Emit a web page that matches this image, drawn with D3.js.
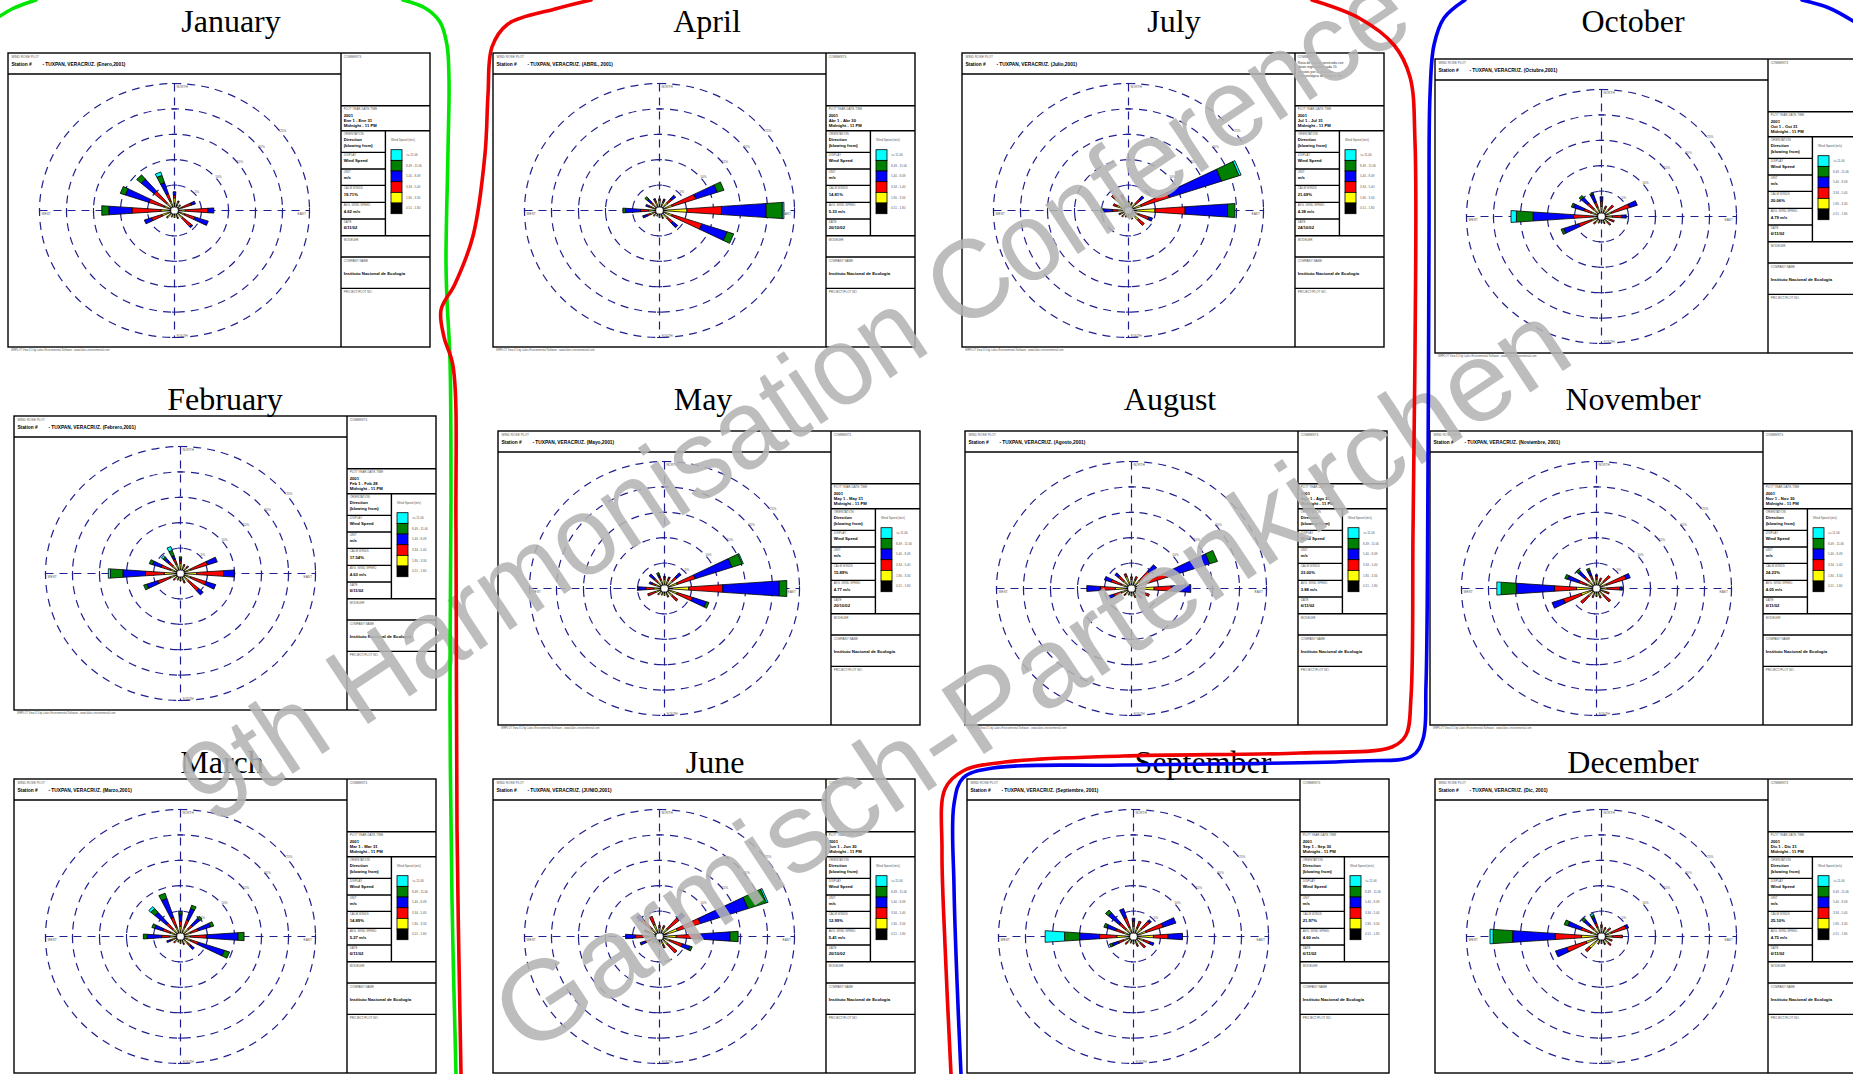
<!DOCTYPE html>
<html>
<head>
<meta charset="utf-8">
<script src="https://cdn.jsdelivr.net/npm/d3@7"></script>
<style>
  body { margin: 0; background: #fff; }
  svg { display: block; }
</style>
</head>
<body>
<svg id="chart" width="1853" height="1074"></svg>
<script>
// ---- data ----
const months = ["January","February","March","April","May","June","July","August","September","October","November","December"]
const stationLabels = ["(Enero,2001)","(Febrero,2001)","(Marzo,2001)","(ABRIL, 2001)","(Mayo,2001)","(JUNIO,2001)","(Julio,2001)","(Agosto,2001)","(Septiembre, 2001)","(Octubre,2001)","(Noviembre, 2001)","(Dic, 2001)"]
const dateRanges = ["Ene 1 - Ene 31","Feb 1 - Feb 28","Mar 1 - Mar 31","Abr 1 - Abr 30","May 1 - May 31","Jun 1 - Jun 30","Jul 1 - Jul 31","Ago 1 - Ago 31","Sep 1 - Sep 30","Oct 1 - Oct 31","Nov 1 - Nov 30","Dic 1 - Dic 31"]
const calmWinds = ["19.71%","17.54%","14.89%","14.81%","15.89%","12.99%","21.69%","23.00%","21.97%","20.06%","24.23%","25.10%"]
const avgSpeeds = ["4.62 m/s","4.63 m/s","5.27 m/s","5.33 m/s","4.77 m/s","5.41 m/s","4.38 m/s","3.88 m/s","4.60 m/s","4.79 m/s","4.05 m/s","4.75 m/s"]
const plotDates = ["6/11/02","6/11/02","6/11/02","20/10/02","20/10/02","20/10/02","24/10/02","6/11/02","6/11/02","6/11/02","6/11/02","6/11/02"]

const directions = ["N","NNE","NE","ENE","E","ESE","SE","SSE","S","SSW","SW","WSW","W","WNW","NW","NNW"]
const speedClasses = ["0.51 - 1.80","1.80 - 3.34","3.34 - 5.40","5.40 - 8.49","8.49 - 11.06",">= 11.06"]
const classColors = ["#000000","#ffff00","#ff0000","#0000ff","#008000","#00ffff"]
const ringValues = [5, 10, 15, 20, 25]

// frequency (%) per direction, per speed class (black, yellow, red, blue, green, cyan)
const janFreq = [[1.5,1.0,0.5,0.7,0,0],[1.2,0.6,0.2,0,0,0],[1.0,0.4,0.1,0,0,0],[1.0,0.5,1.8,0.8,0,0],
  [1.0,1.0,4.2,1.1,0,0],[1.0,1.0,2.0,2.6,0,0],[1.0,1.0,2.2,0.3,0,0],[1.0,0.5,0.2,0,0,0],
  [1.0,0.4,0,0,0,0],[1.0,0.4,0,0,0,0],[1.0,0.8,0.2,0,0,0],[1.0,1.5,2.0,1.4,0,0],
  [1.0,1.5,5.4,4.3,1.3,0],[1.0,1.0,3.0,4.6,1.0,0],[1.0,1.0,3.0,3.2,1.1,0],[1.0,1.0,1.5,2.3,1.5,0.7]]
const febFreq = [[1.0,1.0,0.5,0.4,0.4,0],[1.0,0.6,0.3,0,0,0],[1.0,0.6,0.4,0,0,0],[1.0,1.0,3.3,1.9,0,0],
  [1.0,2.0,5.0,2.0,0,0],[1.0,1.0,3.0,1.9,0,0],[1.0,1.0,2.5,1.1,0,0],[1.0,0.6,0.4,0,0,0],
  [1.0,0.4,0.1,0,0,0],[1.0,0.4,0,0,0,0],[1.0,0.5,0.3,0,0,0],[1.0,1.0,2.5,2.1,0.6,0],
  [1.0,2.0,3.5,4.2,2.3,0.4],[1.0,1.0,1.8,1.7,0.6,0],[1.0,1.0,1.0,1.0,0.3,0.4],[1.0,1.0,1.0,0.7,1.1,0.8]]
const marFreq = [[1.0,1.0,1.0,1.4,0.5,0],[1.0,1.0,1.5,2.3,0.7,0],[1.0,1.0,1.0,1.8,0.5,0],[1.0,1.0,1.5,2.4,0.6,0],
  [1.0,0.8,3.0,5.9,1.1,0],[1.0,1.0,1.5,5.1,1.0,0],[1.0,0.8,0.8,0.8,0,0],[1.0,0.5,0.2,0,0,0],
  [1.0,0.4,0,0,0,0],[0.9,0.3,0,0,0,0],[1.0,0.5,0.2,0,0,0],[1.0,0.7,0.4,0.6,0,0],
  [1.0,1.0,1.5,2.7,0.7,0],[1.0,1.0,1.5,1.5,0.6,0],[1.0,1.0,1.5,2.8,1.0,0.5],[1.0,1.0,2.0,3.9,1.1,0]]
const aprFreq = [[1.2,0.8,0.3,0,0,0],[1.0,0.7,0.4,0.3,0,0],[1.0,1.0,1.0,1.0,0,0],[1.0,1.5,4.6,4.2,1.3,0],
  [1.3,3.8,6.4,8.3,3.0,0.3],[1.0,1.5,5.8,4.9,1.3,0],[1.0,1.0,1.3,1.2,0,0],[1.0,0.5,0.2,0,0,0],
  [1.0,0.4,0,0,0,0],[0.9,0.3,0,0,0,0],[1.0,0.4,0.1,0,0,0],[1.0,0.8,0.7,0.8,0,0],
  [1.0,1.0,1.5,2.8,0.5,0],[1.0,0.6,0.5,0.6,0,0],[1.0,0.7,0.5,0.8,0.6,0],[1.0,0.8,0.5,0.2,0,0]]
const mayFreq = [[1.0,0.8,0.4,0.2,0,0],[1.0,0.7,0.5,0.2,0,0],[1.0,1.0,1.0,1.1,0,0],[1.0,1.5,3.5,7.2,2.0,0.2],
  [1.5,3.0,6.3,10.5,1.4,0],[1.0,1.5,3.0,2.7,0.5,0],[1.0,1.0,1.3,0,0,0],[1.0,0.6,0.2,0,0,0],
  [1.0,0.4,0,0,0,0],[1.0,0.4,0,0,0,0],[1.0,0.5,0.2,0,0,0],[1.0,0.8,1.5,0,0,0],
  [1.0,1.0,1.5,1.4,0,0],[1.0,0.8,0.7,0.5,0,0],[1.0,0.8,0.8,1.2,0,0],[1.0,0.8,0.6,0.4,0.5,0]]
const junFreq = [[1.0,0.8,0.4,0,0,0],[1.0,0.8,0.5,0,0,0],[1.0,1.0,2.8,1.4,0,0],[1.5,2.0,4.5,9.3,3.6,0.3],
  [1.3,1.8,4.3,5.7,1.5,0],[1.0,1.0,2.5,1.5,0.4,0],[1.0,1.0,2.3,0,0,0],[1.0,0.8,0.6,0,0,0],
  [1.0,0.5,0.1,0,0,0],[1.0,0.4,0,0,0,0],[1.0,0.5,0.2,0,0,0],[1.0,0.8,1.0,1.0,0,0],
  [1.0,1.0,2.5,1.8,0,0],[1.0,1.0,1.0,0,0,0],[1.0,1.0,2.5,1.2,0,0],[1.0,1.5,1.7,0,0,0]]
const julFreq = [[1.2,0.5,0.1,0,0,0],[1.0,0.5,0.2,0,0,0],[1.0,0.8,1.2,0.8,0,0],[1.2,1.3,5.5,10.2,3.4,0.4],
  [1.5,3.4,5.6,7.9,1.35,0],[1.0,1.0,2.0,0.7,0,0],[1.0,1.5,1.4,0,0,0],[1.0,0.6,0.2,0,0,0],
  [1.0,0.4,0,0,0,0],[1.0,0.4,0,0,0,0],[1.0,0.5,0.2,0,0,0],[1.0,0.6,0.3,0,0,0],
  [1.0,1.0,1.0,1.7,0.3,0.2],[1.0,1.3,0.7,0,0,0],[1.0,2.5,0.7,0,0,0],[1.0,1.6,0.7,0,0,0]]
const augFreq = [[1.0,0.8,0.5,0,0,0],[1.0,0.8,0.7,0,0,0],[1.0,1.0,2.5,1.7,0,0],[1.3,1.7,4.0,8.3,1.5,0],
  [1.3,2.9,3.2,3.6,0,0],[1.0,1.0,1.5,0,0,0],[1.0,0.8,0.8,0,0,0],[1.0,0.6,0.3,0,0,0],
  [1.0,0.5,0,0,0,0],[1.0,0.4,0,0,0,0],[1.0,0.6,0.3,0,0,0],[1.0,1.0,1.5,1.0,0,0],
  [1.0,2.0,2.8,2.5,0,0],[1.0,1.0,2.0,1.3,0,0],[1.0,1.0,1.3,0.8,0,0],[1.0,1.5,0.6,0,0,0]]
const sepFreq = [[1.0,1.0,1.0,0.6,0,0],[1.0,0.8,1.4,0,0,0],[1.0,1.0,2.0,0.4,0,0],[1.0,1.5,3.3,2.5,0,0],
  [1.0,2.7,2.7,2.7,0,0],[1.0,1.0,1.2,0.8,0,0],[1.0,0.8,1.2,0,0,0],[1.0,0.6,0.5,0,0,0],
  [1.0,0.4,0.1,0,0,0],[1.0,0.4,0,0,0,0],[1.0,0.6,0.5,0,0,0],[1.0,1.0,1.0,1.2,0.5,0],
  [1.0,2.1,3.2,3.7,2.8,3.6],[1.0,1.0,1.5,1.8,0.5,0],[1.0,1.0,1.5,2.7,0.7,0],[1.0,1.0,2.0,1.8,0,0]]
const octFreq = [[1.0,1.0,1.0,0.9,0,0],[1.0,0.7,0.5,0,0,0],[1.0,0.8,1.2,0,0,0],[1.0,1.0,3.5,1.5,0,0],
  [1.0,1.0,1.8,0.8,0,0],[1.0,0.6,0.9,0,0,0],[1.0,0.5,0.8,0,0,0],[1.0,0.4,0.1,0,0,0],
  [1.0,0.3,0,0,0,0],[1.0,0.4,0,0,0,0],[1.0,0.6,0.4,0,0,0],[1.0,1.0,2.5,2.9,0.5,0],
  [1.0,0.6,3.6,7.5,3.1,1.0],[1.0,1.0,1.5,2.0,0.4,0],[1.0,1.0,1.5,1.5,0.5,0],[1.0,1.0,1.0,1.6,0.3,0]]
const novFreq = [[1.0,0.8,0.6,0.3,0,0],[1.0,0.6,0.6,0,0,0],[1.0,0.8,1.6,0,0,0],[1.0,1.0,3.8,0.8,0,0],
  [1.0,1.0,2.3,0.5,0,0],[1.0,0.7,0.8,0,0,0],[1.0,0.8,1.7,0,0,0],[1.0,0.6,0.4,0,0,0],
  [1.0,0.5,0.1,0,0,0],[1.0,0.6,0.3,0,0,0],[1.0,1.0,1.9,0,0,0],[1.0,2.0,3.5,2.2,0,0],
  [1.0,2.7,4.1,7.1,2.8,0.8],[1.0,1.0,1.5,2.2,0.5,0],[1.0,1.0,1.0,1.5,0.5,0],[1.0,1.0,0.8,0.9,0.5,0]]
const decFreq = [[1.0,0.8,0.5,0,0,0],[1.0,0.6,0.3,0,0,0],[1.0,0.7,0.6,0,0,0],[1.0,1.0,2.8,0.5,0,0],
  [1.0,1.0,1.9,0,0,0],[1.0,0.6,0.5,0,0,0],[1.0,0.8,0.6,0,0,0],[1.0,0.5,0.2,0,0,0],
  [1.0,0.4,0,0,0,0],[1.0,0.5,0.1,0,0,0],[1.0,2.0,1.0,0,0,0],[1.0,2.0,3.8,2.2,0,0],
  [1.2,2.5,4.9,7.9,3.6,0.6],[1.0,1.0,2.0,2.6,0.7,0],[1.0,1.0,1.0,1.4,0.5,0],[1.0,1.0,0.8,1.2,0.4,0.4]]
const freqByMonth = [janFreq, febFreq, marFreq, aprFreq, mayFreq, junFreq, julFreq, augFreq, sepFreq, octFreq, novFreq, decFreq]

// ---- layout (page position of each panel and title) ----
const panelPos = [[8,53],[14,416],[14,779],[493,53],[498,431],[493,779],[962,53],[965,431],[967,779],[1435,59],[1430,431],[1435,779]]
const titlePos = [[231,32],[225,410],[222,773],[707,32],[703,410],[715,773],[1174,32],[1170,410],[1203,773],[1633,32],[1633,410],[1633,773]]

const svg = d3.select("#chart")
const pageH = 1074
const W = 422, H = 294, plotW = 333, headH = 21
const rx = d3.scaleLinear().domain([0, 25]).range([0, 135])
const ry = d3.scaleLinear().domain([0, 25]).range([0, 127])
const halfWidth = 4 * Math.PI / 180
const navy = "#1f1f8f"
const sans = "'Liberation Sans', Arial, sans-serif"

function wedgePath(cx, cy, ang, r1, r2) {
    let p = (r, a) => {
        let px = Math.max(rx(r), 3.3), py = Math.max(ry(r), 3.1)
        return [cx + px * Math.sin(a), cy - py * Math.cos(a)]
    }
    let pts = [p(r1, ang - halfWidth), p(r2, ang - halfWidth), p(r2, ang + halfWidth), p(r1, ang + halfWidth)]
    return "M" + pts.map(d => d.join(",")).join("L") + "Z"
}

function label(g, x, y, txt, size, opts) {
    opts = opts || {}
    return g.append("text")
        .attr("x", x).attr("y", y)
        .attr("font-family", sans)
        .attr("font-size", size)
        .attr("font-weight", opts.bold ? "bold" : "normal")
        .attr("fill", opts.fill || "#000")
        .attr("text-anchor", opts.anchor || "start")
        .text(txt)
}

months.forEach((m, i) => {
    let [px, py] = panelPos[i]
    let g = svg.append("g").attr("transform", "translate(" + px + "," + py + ")")

    // title
    svg.append("text")
        .attr("x", titlePos[i][0]).attr("y", titlePos[i][1])
        .attr("text-anchor", "middle")
        .attr("font-family", "'Liberation Serif', 'Times New Roman', serif")
        .attr("font-size", 32)
        .text(m)

    // frame
    g.append("rect").attr("width", W).attr("height", H).attr("fill", "#fff").attr("stroke", "#000").attr("stroke-width", 1.4)
    g.append("line").attr("x1", 0).attr("x2", plotW).attr("y1", headH).attr("y2", headH).attr("stroke", "#000").attr("stroke-width", 1.3)
    g.append("line").attr("x1", plotW).attr("x2", plotW).attr("y1", 0).attr("y2", H).attr("stroke", "#000").attr("stroke-width", 1.4)

    label(g, 3.4, 4.6, "WIND ROSE PLOT", 3.2, { fill: "#555" })
    label(g, 3.4, 12.6, "Station #", 4.8, { bold: true })
    label(g, 34.4, 12.6, "- TUXPAN,  VERACRUZ. " + stationLabels[i], 4.8, { bold: true })

    // side panel boxes
    let sx = plotW, sR = W, colX = 377.4
    let hl = (x1, x2, y) => g.append("line").attr("x1", x1).attr("x2", x2).attr("y1", y).attr("y2", y).attr("stroke", "#000").attr("stroke-width", 1.4)
    ;[52.7, 77.7, 182.7, 204, 235.4].forEach(y => hl(sx, sR, y))
    ;[99.4, 116, 132.4, 149.4, 166].forEach(y => hl(sx, colX, y))
    g.append("line").attr("x1", colX).attr("x2", colX).attr("y1", 77.7).attr("y2", 182.7).attr("stroke", "#000").attr("stroke-width", 1.4)

    let tx = sx + 2.7
    label(g, tx, 5, "COMMENTS", 3, { fill: "#555" })
    label(g, tx, 57, "PLOT YEAR-DATE-TIME", 3, { fill: "#555" })
    label(g, tx, 63.6, "2001", 4.2, { bold: true })
    label(g, tx, 68.8, dateRanges[i], 4.2, { bold: true })
    label(g, tx, 74.2, "Midnight  -  11 PM", 4.2, { bold: true })
    label(g, tx, 82, "ORIENTATION", 3, { fill: "#555" })
    label(g, tx, 88.4, "Direction", 4.2, { bold: true })
    label(g, tx, 93.6, "(blowing from)", 4.2, { bold: true })
    label(g, tx, 103, "DISPLAY", 3, { fill: "#555" })
    label(g, tx, 109.4, "Wind Speed", 4.2, { bold: true })
    label(g, tx, 119.6, "UNIT", 3, { fill: "#555" })
    label(g, tx, 126, "m/s", 4.2, { bold: true })
    label(g, tx, 136, "CALM WINDS", 3, { fill: "#555" })
    label(g, tx, 143, calmWinds[i], 4.2, { bold: true })
    label(g, tx, 153, "AVG. WIND SPEED", 3, { fill: "#555" })
    label(g, tx, 160, avgSpeeds[i], 4.2, { bold: true })
    label(g, tx, 169.6, "DATE", 3, { fill: "#555" })
    label(g, tx, 176, plotDates[i], 4.2, { bold: true })
    label(g, tx, 187.5, "MODELER", 3, { fill: "#555" })
    label(g, tx, 208.8, "COMPANY NAME", 3, { fill: "#555" })
    label(g, tx, 222, "Instituto Nacional de Ecología", 4.3, { bold: true })
    label(g, tx, 240, "PROJECT/PLOT NO.", 3, { fill: "#555" })
    if (i === 6) {
        ["Rosa de viento construida con", "datos registrados cada 15", "minutos por la estación", "meteorológica de Tuxpan, Ver."]
            .forEach((t, k) => label(g, tx, 11 + k * 4.4, t, 3.4, { fill: "#333" }))
    }

    // legend
    label(g, 383, 88.4, "Wind Speed (m/s)", 3, { fill: "#555" })
    let legendOrder = d3.range(speedClasses.length).reverse()
    let ly = d3.scaleBand().domain(legendOrder).range([96.7, 160.7])
    legendOrder.forEach(k => {
        g.append("rect").attr("x", 383).attr("y", ly(k)).attr("width", 11).attr("height", ly.bandwidth())
            .attr("fill", classColors[k]).attr("stroke", "#000").attr("stroke-width", 0.8)
        label(g, 398, ly(k) + ly.bandwidth() / 2 + 1, speedClasses[k], 3, { fill: "#555" })
    })

    // footer (only where it falls on the page)
    if (py + H + 4 < pageH) {
        label(g, 3, H + 3.8, "WRPLOT View 3.5 by Lakes Environmental Software - www.lakes-environmental.com", 2.6, { fill: "#555" })
    }

    // rose
    let cx = plotW / 2, cy = headH + (H - headH) / 2
    let rose = g.append("g")
    ringValues.forEach(v => {
        rose.append("ellipse").attr("cx", cx).attr("cy", cy).attr("rx", rx(v)).attr("ry", ry(v))
            .attr("fill", "none").attr("stroke", navy).attr("stroke-width", 1.2).attr("stroke-dasharray", "8,6")
        // tick crosses on the axes
        ;[rx(v), -rx(v)].forEach(dx =>
            rose.append("line").attr("x1", cx + dx).attr("x2", cx + dx).attr("y1", cy - 2.5).attr("y2", cy + 2.5).attr("stroke", navy).attr("stroke-width", 1.1))
        ;[ry(v), -ry(v)].forEach(dy =>
            rose.append("line").attr("x1", cx - 2.5).attr("x2", cx + 2.5).attr("y1", cy + dy).attr("y2", cy + dy).attr("stroke", navy).attr("stroke-width", 1.1))
        let a = 53 * Math.PI / 180
        label(rose, cx + (rx(v) + 1) * Math.sin(a), cy - (ry(v) + 3) * Math.cos(a), v + "%", 3.2, { fill: "#555", anchor: "middle" })
    })
    rose.append("line").attr("x1", cx - rx(25)).attr("x2", cx + rx(25)).attr("y1", cy).attr("y2", cy)
        .attr("stroke", navy).attr("stroke-width", 1.2).attr("stroke-dasharray", "8,6")
    rose.append("line").attr("x1", cx).attr("x2", cx).attr("y1", cy - ry(25)).attr("y2", cy + ry(25))
        .attr("stroke", navy).attr("stroke-width", 1.2).attr("stroke-dasharray", "8,6")
    label(rose, cx + 2, cy - ry(25) + 4, "NORTH", 3.2, { fill: "#555" })
    label(rose, cx + 2, cy + ry(25) - 1, "SOUTH", 3.2, { fill: "#555" })
    label(rose, cx - rx(25) + 2, cy + 4.5, "WEST", 3.2, { fill: "#555" })
    label(rose, cx + rx(25) - 12, cy + 4.5, "EAST", 3.2, { fill: "#555" })

    let freq = freqByMonth[i]
    freq.forEach((row, d) => {
        let ang = d * 22.5 * Math.PI / 180
        let cum = d3.cumsum(row)
        row.forEach((v, k) => {
            if (v <= 0) return
            let r1 = k === 0 ? 0 : cum[k - 1]
            rose.append("path").attr("d", wedgePath(cx, cy, ang, r1, cum[k]))
                .attr("fill", classColors[k]).attr("stroke", "#000").attr("stroke-width", 0.8)
                .attr("stroke-linejoin", "round")
        })
    })
    rose.append("ellipse").attr("cx", cx).attr("cy", cy).attr("rx", 3.3).attr("ry", 3.1).attr("fill", "#fff")
})

// ---- watermark ----
const watermarkLines = ["9th Harmonisation Conference", "Garmisch-Partenkirchen"]
const wmPos = [[815, 428, 1445], [1052, 709, 1261]]
watermarkLines.forEach((t, k) => {
    svg.append("text")
        .attr("transform", "translate(" + wmPos[k][0] + "," + wmPos[k][1] + ") rotate(-33.5)")
        .attr("text-anchor", "middle")
        .attr("font-family", sans)
        .attr("font-size", 112)
        .attr("textLength", wmPos[k][2])
        .attr("lengthAdjust", "spacingAndGlyphs")
        .attr("fill", "#b4b4b4")
        .attr("fill-opacity", 0.88)
        .text(t)
})

// ---- hand-drawn grouping strokes ----
const greenStrokes = [
    [[0,16],[12,9],[24,4],[36,0]],
    [[403,0],[425,8],[440,22],[447,45],[449,80],[448,150],[446,260],[447,300],[450,360],[451,500],[450,700],[452,900],[456,1074]]
]
const redStrokes = [
    [[591,0],[555,9],[508,24],[492,47],[488,95],[485,154],[473,236],[455,284],[441,310],[444,337],[453,366],[456,532],[457,827],[461,1074]],
    [[1312,0],[1359,18],[1394,45],[1410,77],[1415,142],[1415,355],[1413,532],[1411,697],[1406,735],[1392,747],[1300,753],[1123,756],[1005,762],[963,771],[945,789],[942,851],[945,945],[951,1074]]
]
const blueStrokes = [
    [[1465,0],[1444,18],[1434,45],[1430,95],[1429,236],[1428,473],[1426,685],[1423,739],[1412,756],[1359,761],[1123,765],[993,768],[963,778],[954,804],[954,886],[957,981],[961,1074]],
    [[1802,0],[1829,8],[1853,21]]
]
const strokeLine = d3.line().curve(d3.curveCatmullRom)
;[[greenStrokes, "#00e600"], [redStrokes, "#f00000"], [blueStrokes, "#0000f0"]].forEach(([set, col]) => {
    set.forEach(pts => {
        svg.append("path").attr("d", strokeLine(pts)).attr("fill", "none")
            .attr("stroke", col).attr("stroke-width", 3.6).attr("stroke-linecap", "round").attr("stroke-linejoin", "round")
    })
})
</script>
</body>
</html>
